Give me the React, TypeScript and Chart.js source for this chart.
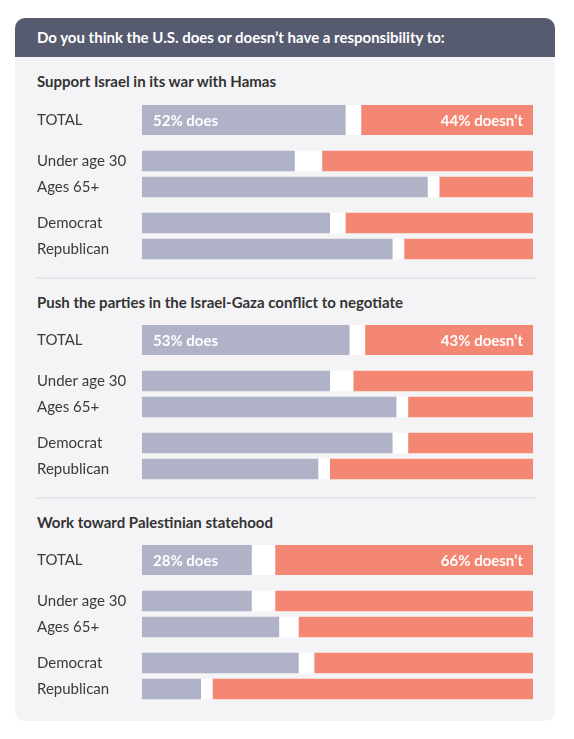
import React, { useEffect, useRef } from "react";
import { Chart, registerables } from "chart.js";

Chart.register(...registerables);

const QUESTION = "Do you think the U.S. does or doesn’t have a responsibility to:";
const SECTION_TITLES = [
  "Support Israel in its war with Hamas",
  "Push the parties in the Israel-Gaza conflict to negotiate",
  "Work toward Palestinian statehood",
];
const TOTAL_LABELS = ["TOTAL"];
const AGE_LABELS = ["Under age 30", "Ages 65+"];
const PARTY_LABELS = ["Democrat", "Republican"];

// Row order in each section: TOTAL, Under age 30, Ages 65+, Democrat, Republican
const DOES_ISRAEL = [52, 39, 73, 48, 64];
const UNSURE_ISRAEL = [4, 7, 3, 4, 3];
const DOESNT_ISRAEL = [44, 54, 24, 48, 33];

const DOES_NEGOTIATE = [53, 48, 65, 64, 45];
const UNSURE_NEGOTIATE = [4, 6, 3, 4, 3];
const DOESNT_NEGOTIATE = [43, 46, 32, 32, 52];

const DOES_STATEHOOD = [28, 28, 35, 40, 15];
const UNSURE_STATEHOOD = [6, 6, 5, 4, 3];
const DOESNT_STATEHOOD = [66, 66, 60, 56, 82];

const SECTIONS = [
  { title: SECTION_TITLES[0], does: DOES_ISRAEL, unsure: UNSURE_ISRAEL, doesnt: DOESNT_ISRAEL },
  { title: SECTION_TITLES[1], does: DOES_NEGOTIATE, unsure: UNSURE_NEGOTIATE, doesnt: DOESNT_NEGOTIATE },
  { title: SECTION_TITLES[2], does: DOES_STATEHOOD, unsure: UNSURE_STATEHOOD, doesnt: DOESNT_STATEHOOD },
];

const GRAY = "#b0b3c8";
const WHITE = "#ffffff";
const SALMON = "#f48674";
const FONT = "Lato, 'Noto Sans', sans-serif";
const CHART_W = 496;

const valueLabelPlugin = {
  id: "valueLabels",
  afterDatasetsDraw(chart: any) {
    const opts = chart.options.plugins.valueLabels;
    if (!opts || !opts.show) return;
    const ctx = chart.ctx;
    ctx.save();
    ctx.fillStyle = "#ffffff";
    ctx.font = `bold 15px ${FONT}`;
    ctx.textBaseline = "middle";
    const m0 = chart.getDatasetMeta(0);
    const m2 = chart.getDatasetMeta(2);
    m0.data.forEach((el: any, i: number) => {
      const v = chart.data.datasets[0].data[i];
      const left = Math.min(el.x, el.base);
      ctx.textAlign = "left";
      ctx.fillText(`${v}% does`, left + 11, el.y + 1);
    });
    m2.data.forEach((el: any, i: number) => {
      const v = chart.data.datasets[2].data[i];
      const right = Math.max(el.x, el.base);
      ctx.textAlign = "right";
      ctx.fillText(`${v}% doesn’t`, right - 10, el.y + 1);
    });
    ctx.restore();
  },
};

function BarGroup(props: {
  labels: string[];
  does: number[];
  unsure: number[];
  doesnt: number[];
  height: number;
  thickness: number;
  showValues?: boolean;
}) {
  const ref = useRef<HTMLCanvasElement | null>(null);
  useEffect(() => {
    if (!ref.current) return;
    const chart = new Chart(ref.current, {
      type: "bar",
      data: {
        labels: props.labels,
        datasets: [
          { label: "Does", data: props.does, backgroundColor: GRAY, barThickness: props.thickness },
          { label: "Unsure", data: props.unsure, backgroundColor: WHITE, barThickness: props.thickness },
          { label: "Doesn’t", data: props.doesnt, backgroundColor: SALMON, barThickness: props.thickness },
        ],
      },
      options: {
        indexAxis: "y",
        responsive: false,
        animation: false,
        layout: { padding: 0 },
        scales: {
          x: { stacked: true, min: 0, max: 100, display: false },
          y: {
            stacked: true,
            grid: { display: false },
            border: { display: false },
            ticks: {
              crossAlign: "far",
              padding: 0,
              color: "#3a3a3a",
              font: { family: FONT, size: 15 },
            },
            afterFit(scale: any) {
              scale.width = 105;
              scale.paddingTop = 0;
              scale.paddingBottom = 0;
            },
          },
        },
        plugins: {
          legend: { display: false },
          tooltip: { enabled: false },
          valueLabels: { show: !!props.showValues },
        } as any,
      },
      plugins: [valueLabelPlugin],
    } as any);
    return () => chart.destroy();
  }, []);
  return (
    <canvas
      ref={ref}
      width={CHART_W}
      height={props.height}
      style={{ display: "block", width: CHART_W, height: props.height }}
    />
  );
}

export default function App() {
  return (
    <div
      style={{
        marginLeft: 7,
        marginTop: 10,
        width: 540,
        background: "#f4f4f6",
        borderRadius: 10,
        paddingBottom: 19,
        fontFamily: FONT,
      }}
    >
      <div
        style={{
          height: 39,
          lineHeight: "39px",
          background: "#565b6f",
          borderRadius: "10px 10px 0 0",
          color: "#ffffff",
          fontWeight: 700,
          fontSize: 15,
          paddingLeft: 22,
        }}
      >
        {QUESTION}
      </div>
      {SECTIONS.map((s, k) => (
        <div key={k}>
          {k > 0 && (
            <div style={{ marginLeft: 22, width: 498, height: 2, background: "#e5e5ea", marginTop: 15 }} />
          )}
          <div
            style={{
              height: k === 0 ? 48 : 46,
              lineHeight: k === 0 ? "48px" : "46px",
              paddingLeft: 22,
              fontWeight: 700,
              fontSize: 15,
              color: "#333333",
            }}
          >
            {s.title}
          </div>
          <div style={{ marginLeft: 22 }}>
            <BarGroup
              labels={TOTAL_LABELS}
              does={s.does.slice(0, 1)}
              unsure={s.unsure.slice(0, 1)}
              doesnt={s.doesnt.slice(0, 1)}
              height={30}
              thickness={30}
              showValues
            />
            <div style={{ height: 13 }} />
            <BarGroup
              labels={AGE_LABELS}
              does={s.does.slice(1, 3)}
              unsure={s.unsure.slice(1, 3)}
              doesnt={s.doesnt.slice(1, 3)}
              height={52}
              thickness={20}
            />
            <div style={{ height: 10 }} />
            <BarGroup
              labels={PARTY_LABELS}
              does={s.does.slice(3, 5)}
              unsure={s.unsure.slice(3, 5)}
              doesnt={s.doesnt.slice(3, 5)}
              height={52}
              thickness={20}
            />
          </div>
        </div>
      ))}
    </div>
  );
}
